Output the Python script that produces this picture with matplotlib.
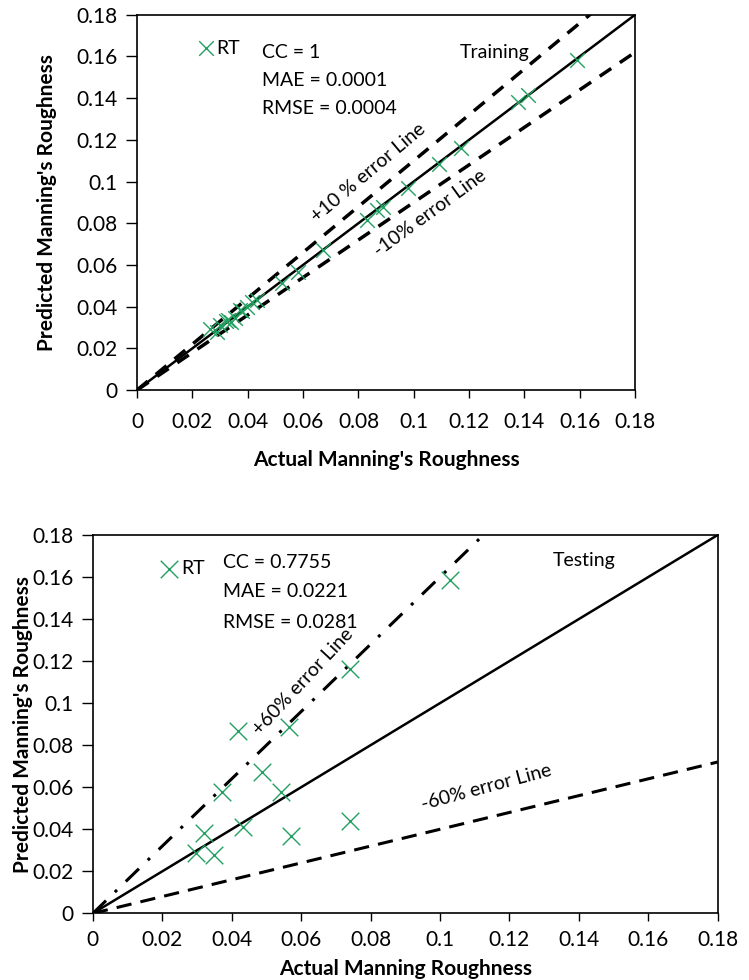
import numpy as np
import matplotlib.pyplot as plt

plt.rcParams['font.family'] = ['Lato', 'DejaVu Sans']

# training: actual vs predicted
train_actual = [0.159, 0.1414, 0.1376, 0.117, 0.109, 0.098, 0.0887, 0.0866, 0.083,
                0.0673, 0.0583, 0.0523, 0.0433, 0.0415, 0.0396, 0.0378, 0.0372, 0.0355,
                0.0340, 0.0330, 0.0320, 0.0300, 0.0288, 0.0262]
train_pred = [0.1584, 0.1416, 0.138, 0.116, 0.1085, 0.0968, 0.088, 0.0864, 0.0816,
              0.0672, 0.0568, 0.0512, 0.0432, 0.0420, 0.0400, 0.0380, 0.0384, 0.0345,
              0.0325, 0.0336, 0.0330, 0.0310, 0.0280, 0.0295]

# testing: actual vs predicted
test_actual = [0.103, 0.0742, 0.0418, 0.0564, 0.0486, 0.0542, 0.0372, 0.0432,
               0.032, 0.0297, 0.0349, 0.0571, 0.074]
test_pred = [0.1584, 0.1163, 0.087, 0.0886, 0.0671, 0.0579, 0.0579, 0.041,
             0.0381, 0.0286, 0.0278, 0.0368, 0.044]

ticks = [0, 0.02, 0.04, 0.06, 0.08, 0.1, 0.12, 0.14, 0.16, 0.18]
tick_labels = ['0', '0.02', '0.04', '0.06', '0.08', '0.1', '0.12', '0.14', '0.16', '0.18']
green = '#22a060'

fig = plt.figure(figsize=(7.49, 9.8), dpi=100)
ax1 = fig.add_axes([0.183, 0.602, 0.665, 0.383])
ax2 = fig.add_axes([0.124, 0.068, 0.834, 0.386])

xx = np.array([0, 0.18])


def setup(ax, xlabel, xlab_y, ylab_x, xpad):
    ax.set_xlim(0, 0.18)
    ax.set_ylim(0, 0.18)
    ax.set_xticks(ticks)
    ax.set_yticks(ticks)
    ax.set_xticklabels(tick_labels)
    ax.set_yticklabels(tick_labels)
    ax.tick_params(direction='out', labelsize=15, width=1)
    ax.tick_params(axis='x', length=6, pad=xpad)
    ax.tick_params(axis='y', length=8, pad=6)
    ax.set_xlabel(xlabel, fontsize=15, fontweight='bold')
    ax.set_ylabel("Predicted Manning's Roughness", fontsize=15, fontweight='bold')
    ax.xaxis.set_label_coords(0.5, xlab_y)
    ax.yaxis.set_label_coords(ylab_x, 0.5)
    for s in ax.spines.values():
        s.set_linewidth(1.2)


# top: training
ax1.plot(xx, xx, color='black', lw=1.8, zorder=2)
ax1.plot(xx, 1.1 * xx, color='black', lw=2.5, ls=(0, (4, 3)), zorder=2)
ax1.plot(xx, 0.9 * xx, color='black', lw=2.5, ls=(0, (4, 3)), zorder=2)
ax1.scatter(train_actual, train_pred, marker='x', s=110, color=green, linewidths=1.0, zorder=3)
ax1.scatter([0.025], [0.164], marker='x', s=110, color=green, linewidths=1.0, clip_on=False)
ax1.text(0.0285, 0.164, 'RT', fontsize=14, va='center')
ax1.text(0.045, 0.162, 'CC = 1', fontsize=14, va='center')
ax1.text(0.045, 0.1485, 'MAE = 0.0001', fontsize=14, va='center')
ax1.text(0.045, 0.135, 'RMSE = 0.0004', fontsize=14, va='center')
ax1.text(0.1165, 0.162, 'Training', fontsize=14, va='center')
ax1.text(0.0835, 0.104, '+10 % error Line', fontsize=14, rotation=40, ha='center', va='center')
ax1.text(0.106, 0.085, '-10% error Line', fontsize=14, rotation=36, ha='center', va='center')
setup(ax1, "Actual Manning's Roughness", -0.16, -0.16, 10)

# bottom: testing
ax2.plot(xx, xx, color='black', lw=1.8, zorder=2)
ax2.plot(xx, 1.6 * xx, color='black', lw=2.2, ls=(0, (6, 4, 1, 4)), zorder=2)
ax2.plot(xx, 0.4 * xx, color='black', lw=2.2, ls=(0, (5, 3)), zorder=2)
ax2.scatter(test_actual, test_pred, marker='x', s=160, color=green, linewidths=1.0, zorder=3)
ax2.scatter([0.022], [0.164], marker='x', s=160, color=green, linewidths=1.0, clip_on=False)
ax2.text(0.0255, 0.164, 'RT', fontsize=14, va='center')
ax2.text(0.0375, 0.167, 'CC = 0.7755', fontsize=14, va='center')
ax2.text(0.0375, 0.153, 'MAE = 0.0221', fontsize=14, va='center')
ax2.text(0.0375, 0.1385, 'RMSE = 0.0281', fontsize=14, va='center')
ax2.text(0.1325, 0.168, 'Testing', fontsize=14, va='center')
ax2.text(0.0605, 0.11, '+60% error Line', fontsize=14, rotation=47, ha='center', va='center')
ax2.text(0.1135, 0.06, '-60% error Line', fontsize=14, rotation=15, ha='center', va='center')
setup(ax2, "Actual Manning Roughness", -0.12, -0.096, 6)

fig.savefig('out.png', dpi=100)
